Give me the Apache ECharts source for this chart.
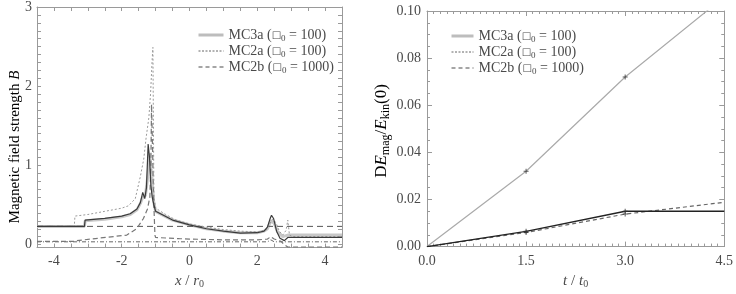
<!DOCTYPE html>
<html><head><meta charset="utf-8">
<script src="https://cdn.jsdelivr.net/npm/echarts@6/dist/echarts.min.js"></script>
<style>html,body{margin:0;padding:0;background:#fff}#c{width:736px;height:294px}</style>
</head><body><div id="c"></div>
<script>
// ---------- data: left panel (B along x) ----------
const seriesNames = ['MC3a', 'MC2a', 'MC2b'];
const betaLabels = ['100', '100', '1000'];

const leftXTickLabels = [-4, -2, 0, 2, 4];
const leftYTickLabels = [0, 1, 2, 3];
const rightXTickLabels = [0.0, 1.5, 3.0, 4.5];
const rightYTickLabels = [0.00, 0.02, 0.04, 0.06, 0.08, 0.10];

// MC3a (thick grey)
const mc3aX = [-4.5,-3.1,-3.08,-2.5,-2.0,-1.75,-1.55,-1.45,-1.38,-1.3,-1.22,-1.18,-1.14,-1.1,-1.06,-1.0,-0.5,0,0.5,1.0,1.5,2.0,2.2,2.3,2.4,2.5,2.6,2.75,2.9,3.0,4.5];
const mc3aB = [0.23,0.23,0.30,0.32,0.35,0.38,0.44,0.52,0.60,0.62,0.90,1.15,1.00,0.80,0.55,0.42,0.31,0.25,0.20,0.17,0.15,0.15,0.17,0.20,0.30,0.27,0.16,0.10,0.12,0.12,0.12];
// dark solid profile
const darkX = [-4.5,-3.1,-3.08,-2.5,-2.0,-1.75,-1.55,-1.45,-1.38,-1.32,-1.27,-1.22,-1.18,-1.14,-1.1,-1.05,-1.0,-0.5,0,0.5,1.0,1.5,2.0,2.2,2.3,2.38,2.42,2.48,2.57,2.67,2.8,2.9,3.0,4.5];
const darkB = [0.23,0.23,0.31,0.33,0.36,0.39,0.45,0.53,0.66,0.58,0.72,1.27,1.10,0.75,0.60,0.50,0.42,0.31,0.25,0.20,0.17,0.145,0.15,0.17,0.22,0.33,0.37,0.33,0.17,0.08,0.05,0.09,0.09,0.09];
// MC2a (light dotted, tall spike)
const mc2aX = [-4.5,-3.4,-3.38,-3.0,-2.5,-2.0,-1.8,-1.6,-1.45,-1.35,-1.28,-1.2,-1.15,-1.1,-1.08,-1.05,-1.0,-0.7,-0.4,0,0.5,1.0,1.5,2.0,2.25,2.35,2.45,2.55,2.65,2.75,2.85,2.9,2.95,3.05,3.5,4.5];
const mc2aB = [0.23,0.23,0.36,0.38,0.42,0.46,0.49,0.58,0.86,1.08,1.35,1.60,1.90,2.35,2.49,0.60,0.46,0.38,0.31,0.26,0.22,0.19,0.17,0.16,0.18,0.25,0.32,0.28,0.17,0.12,0.18,0.31,0.12,0.10,0.10,0.10];
// MC2a ambient line (dash-dot, bottom)
const mc2aBaseX = [-4.5, 2.3, 2.4, 2.5, 4.5];
const mc2aBaseB = [0.035, 0.035, 0.06, 0.035, 0.035];
// MC2b (dashed)
const mc2bX = [-4.5,-3.4,-3.33,-2.55,-1.85,-1.56,-1.36,-1.24,-1.17,-1.14,-1.12,-1.1,-1.06,-1.02,-1.0,-0.3,0,0.5,1.0,1.5,2.0,2.3,2.4,2.5,2.7,2.8,2.9,4.5];
const mc2bB = [0.04,0.04,0.05,0.087,0.12,0.20,0.33,0.45,0.60,1.00,1.77,1.40,0.60,0.12,0.09,0.075,0.07,0.065,0.06,0.06,0.06,0.07,0.10,0.07,0.04,0.0,-0.03,-0.03];
// MC2b reference level (dashed horizontal)
const mc2bRefX = [-4.5, 4.5];
const mc2bRefB = [0.23, 0.23];

// ---------- data: right panel (ΔE_mag / E_kin(0) vs t) ----------
const tVals = [0, 1.5, 3.0, 4.5];
const dE_mc3a = [0, 0.032, 0.072, 0.106];
const dE_mc2a = [0, 0.0065, 0.0150, 0.0150];
const dE_mc2b = [0, 0.0060, 0.0138, 0.0188];
const markerIdx = [1, 2];

// ---------- helpers ----------
const FONT = '"Liberation Serif", "Times New Roman", Times, serif';
const TXT = '#4a4a4a';
const FRAME = '#9a9a9a';
const zip = (xs, ys) => xs.map((x, i) => [x, ys[i]]);
const near = (v, list) => list.some(t => Math.abs(t - v) < 1e-6);

const richLeg = {
  a: { fontFamily: FONT, fontSize: 14, color: TXT, lineHeight: 16 },
  b: { fontFamily: 'DejaVu Sans', fontSize: 10, color: TXT, lineHeight: 16 },
  s: { fontFamily: FONT, fontSize: 9, color: TXT, lineHeight: 16, verticalAlign: 'bottom', padding: [4, 0, 0, 0] }
};
const legFmt = name => {
  const i = seriesNames.indexOf(name);
  return `{a|${name} (}{b|□}{s|0}{a| = ${betaLabels[i]})}`;
};
const hidden = { opacity: 0, borderWidth: 0 };
const legData = [
  { name: 'MC3a', itemStyle: hidden, lineStyle: { color: '#bdbdbd', width: 3, type: 'solid' } },
  { name: 'MC2a', itemStyle: hidden, lineStyle: { color: '#666', width: 1, type: [2, 1.5] } },
  { name: 'MC2b', itemStyle: hidden, lineStyle: { color: '#888', width: 1.5, type: [4, 3] } }
];
const legendBase = {
  orient: 'vertical', itemWidth: 25, itemHeight: 12, itemGap: 1,
  selectedMode: false, data: legData, formatter: legFmt, itemStyle: hidden,
  textStyle: { rich: richLeg, fontFamily: FONT, fontSize: 14, color: TXT }
};

const axisCommon = {
  axisLine: { show: true, onZero: false, lineStyle: { color: FRAME, width: 1 } },
  splitLine: { show: false }
};
const labelStyle = { fontFamily: FONT, fontSize: 14, color: TXT };
const nameRich = {
  i: { fontFamily: FONT, fontStyle: 'italic', fontSize: 15, color: TXT },
  n: { fontFamily: FONT, fontSize: 15, color: TXT },
  s: { fontFamily: FONT, fontSize: 10, color: TXT, padding: [6, 0, 0, 0] }
};
const nameRichBig = {
  i: { fontFamily: FONT, fontStyle: 'italic', fontSize: 17, color: TXT },
  n: { fontFamily: FONT, fontSize: 17, color: TXT },
  s: { fontFamily: FONT, fontSize: 12, color: TXT, padding: [7, 0, 0, 0] }
};

function leftX(pos, show) {
  return Object.assign({}, axisCommon, {
    type: 'value', gridIndex: 0, position: pos, min: -4.5, max: 4.5, interval: 0.5,
    offset: pos === 'bottom' ? 3 : 0,
    axisTick: { show: true, inside: true, length: 4, lineStyle: { color: FRAME } },
    axisLabel: { show: show, margin: 7, ...labelStyle, formatter: v => near(v, leftXTickLabels) ? String(Math.round(v)) : '' },
    name: show ? '{i|x}{n| / }{i|r}{s|0}' : '', nameLocation: 'middle', nameGap: 21,
    nameTextStyle: { rich: nameRich }
  });
}
function leftY(pos, show) {
  return Object.assign({}, axisCommon, {
    type: 'value', gridIndex: 0, position: pos, min: 0, max: 3, interval: 0.1,
    axisTick: { show: true, inside: true, length: 4, lineStyle: { color: FRAME } },
    axisLabel: { show: show, margin: 5, ...labelStyle, formatter: v => near(v, leftYTickLabels) ? String(Math.round(v)) : '' }
  });
}
function rightX(pos, show) {
  return Object.assign({}, axisCommon, {
    type: 'value', gridIndex: 1, position: pos, min: 0, max: 4.5, interval: 1.5,
    axisTick: { show: true, inside: true, length: 5, lineStyle: { color: FRAME } },
    minorTick: { show: true, splitNumber: 15, length: 3, lineStyle: { color: FRAME } },
    axisLabel: { show: show, margin: 8, ...labelStyle, formatter: v => v.toFixed(1) },
    name: show ? '{i|t}{n| / }{i|t}{s|0}' : '', nameLocation: 'middle', nameGap: 26,
    nameTextStyle: { rich: nameRich }
  });
}
function rightY(pos, show) {
  return Object.assign({}, axisCommon, {
    type: 'value', gridIndex: 1, position: pos, min: 0, max: 0.1, interval: 0.02,
    axisTick: { show: true, inside: true, length: 5, lineStyle: { color: FRAME } },
    minorTick: { show: true, splitNumber: 4, length: 3, lineStyle: { color: FRAME } },
    axisLabel: { show: show, margin: 6, ...labelStyle, formatter: v => v.toFixed(2) }
  });
}

const lineS = (name, xi, yi, data, style, z, clip) => ({
  name, type: 'line', xAxisIndex: xi, yAxisIndex: yi, data, showSymbol: false, symbol: 'none',
  itemStyle: { color: style.color }, lineStyle: style, animation: false, z: z || 2,
  clip: clip !== false
});
const plus = 'path://M4,0H6V4H10V6H6V10H4V6H0V4H4Z';
const markers = (vals, xi, yi) => ({
  type: 'scatter', xAxisIndex: xi, yAxisIndex: yi, symbol: plus, symbolSize: 5,
  itemStyle: { color: '#333' }, data: markerIdx.map(i => [tVals[i], vals[i]]), z: 5, animation: false
});

const option = {
  animation: false,
  grid: [
    { left: 37, right: 394, top: 7, bottom: 44 },
    { left: 427, right: 11, top: 11, bottom: 44 }
  ],
  xAxis: [leftX('bottom', true), leftX('top', false), rightX('bottom', true), rightX('top', false)],
  yAxis: [leftY('left', true), leftY('right', false), rightY('left', true), rightY('right', false)],
  legend: [
    Object.assign({}, legendBase, { left: 192, top: 23 }),
    Object.assign({}, legendBase, { left: 445, top: 24, itemWidth: 22 })
  ],
  graphic: [{
    type: 'text', x: 15, y: 147, rotation: Math.PI / 2, silent: true,
    style: { text: '{n|Magnetic field strength }{i|B}', rich: nameRich, align: 'center', verticalAlign: 'middle' }
  }, {
    type: 'text', x: 382, y: 131, rotation: Math.PI / 2, silent: true,
    style: { text: '{n|D}{i|E}{s|mag}{n|/}{i|E}{s|kin}{n|(0)}', rich: nameRichBig, align: 'center', verticalAlign: 'middle' }
  }],
  series: [
    lineS('MC3a', 0, 0, zip(mc3aX, mc3aB), { color: '#c8c8c8', width: 3 }, 1),
    lineS('MC2b', 0, 0, zip(mc2bRefX, mc2bRefB), { color: '#555', width: 1, type: [6, 4] }, 2),
    lineS('MC2a', 0, 0, zip(mc2aBaseX, mc2aBaseB), { color: '#666', width: 1, type: [4, 2, 1, 2] }, 2),
    lineS('MC2b', 0, 0, zip(mc2bX, mc2bB), { color: '#777', width: 1.2, type: [5, 3] }, 3, false),
    lineS('MC2a', 0, 0, zip(mc2aX, mc2aB), { color: '#9a9a9a', width: 1, type: [2, 2] }, 3),
    lineS('MC3a', 0, 0, zip(darkX, darkB), { color: '#3a3a3a', width: 1.2 }, 4),

    lineS('MC3a', 2, 2, zip(tVals, dE_mc3a), { color: '#aaaaaa', width: 1.2 }, 2),
    lineS('MC2b', 2, 2, zip(tVals, dE_mc2b), { color: '#666', width: 1.2, type: [4, 3] }, 3),
    lineS('MC2a', 2, 2, zip(tVals, dE_mc2a), { color: '#222', width: 1.3 }, 3),
    markers(dE_mc3a, 2, 2), markers(dE_mc2a, 2, 2), markers(dE_mc2b, 2, 2)
  ]
};
echarts.init(document.getElementById('c'), null, { renderer: 'canvas' }).setOption(option);
</script></body></html>
